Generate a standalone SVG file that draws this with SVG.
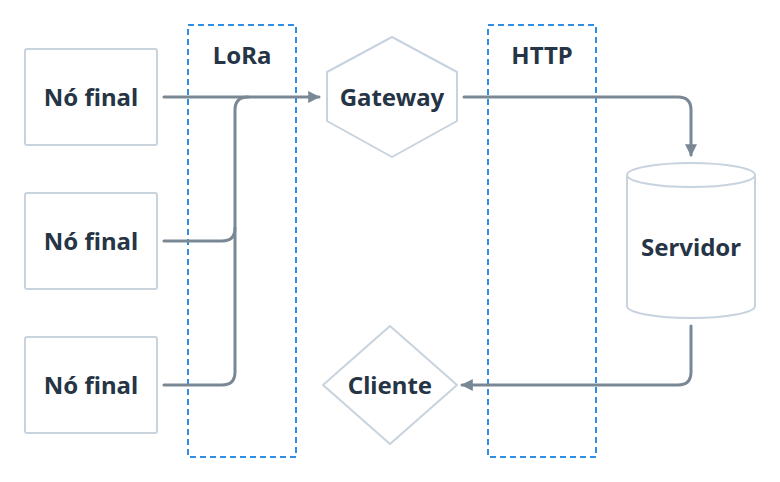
<svg xmlns="http://www.w3.org/2000/svg" width="780" height="482" viewBox="0 0 780 482">
<defs>
<marker id="ah" viewBox="0 0 10 10" refX="9" refY="5" markerWidth="4" markerHeight="4" orient="auto" markerUnits="strokeWidth">
<path d="M0,0 L10,5 L0,10 Z" fill="#7a8794"/>
</marker>
<style>
.node{fill:#fff;stroke:#c8d3de;stroke-width:2;stroke-linejoin:round}
.lbl{font-family:"Noto Sans","Roboto",sans-serif;font-weight:700;font-size:24px;fill:#263545;text-anchor:middle;dominant-baseline:central}
.zone{fill:none;stroke:#2f8de4;stroke-width:2;stroke-dasharray:6 4}
.edge{fill:none;stroke:#7a8794;stroke-width:3;stroke-linecap:round;stroke-linejoin:round}
</style>
</defs>
<rect width="780" height="482" fill="#fff"/>
<g id="zones">
<rect class="zone" x="188" y="25" width="108" height="432"/>
<rect class="zone" x="488" y="25" width="108" height="432"/>
<text class="lbl" x="242" y="54">LoRa</text>
<text class="lbl" x="542" y="54">HTTP</text>
</g>
<g id="n1"><rect class="node" x="25" y="49" width="132" height="96" rx="2"/><text class="lbl" x="91" y="96">Nó final</text></g>
<g id="n2"><rect class="node" x="25" y="193" width="132" height="96" rx="2"/><text class="lbl" x="91" y="240">Nó final</text></g>
<g id="n3"><rect class="node" x="25" y="337" width="132" height="96" rx="2"/><text class="lbl" x="91" y="384">Nó final</text></g>
<g id="gateway"><polygon class="node" points="392,37 457,72 457,121 392,157 327,121 327,72"/><text class="lbl" x="392" y="96">Gateway</text></g>
<g id="servidor">
<path class="node" d="M627,175 A64,12 0 0 1 755,175 L755,306 A64,12 0 0 1 627,306 Z"/>
<path class="node" d="M627,175 A64,12 0 0 0 755,175" fill="none"/>
<text class="lbl" x="691" y="246">Servidor</text>
</g>
<g id="cliente"><polygon class="node" points="390,326 457,385 390,444 323,385"/><text class="lbl" x="390" y="384">Cliente</text></g>
<g id="connectors">
<path class="edge" d="M164,97 L319,97" marker-end="url(#ah)"/>
<path class="edge" d="M164,241 L222,241 Q235,241 235,228 L235,110 Q235,97 248,97"/>
<path class="edge" d="M164,385 L222,385 Q235,385 235,372 L235,228"/>
<path class="edge" d="M464,97 L678,97 Q691,97 691,110 L691,155" marker-end="url(#ah)"/>
<path class="edge" d="M691,326 L691,372 Q691,385 678,385 L462,385" marker-end="url(#ah)"/>
</g>
</svg>
